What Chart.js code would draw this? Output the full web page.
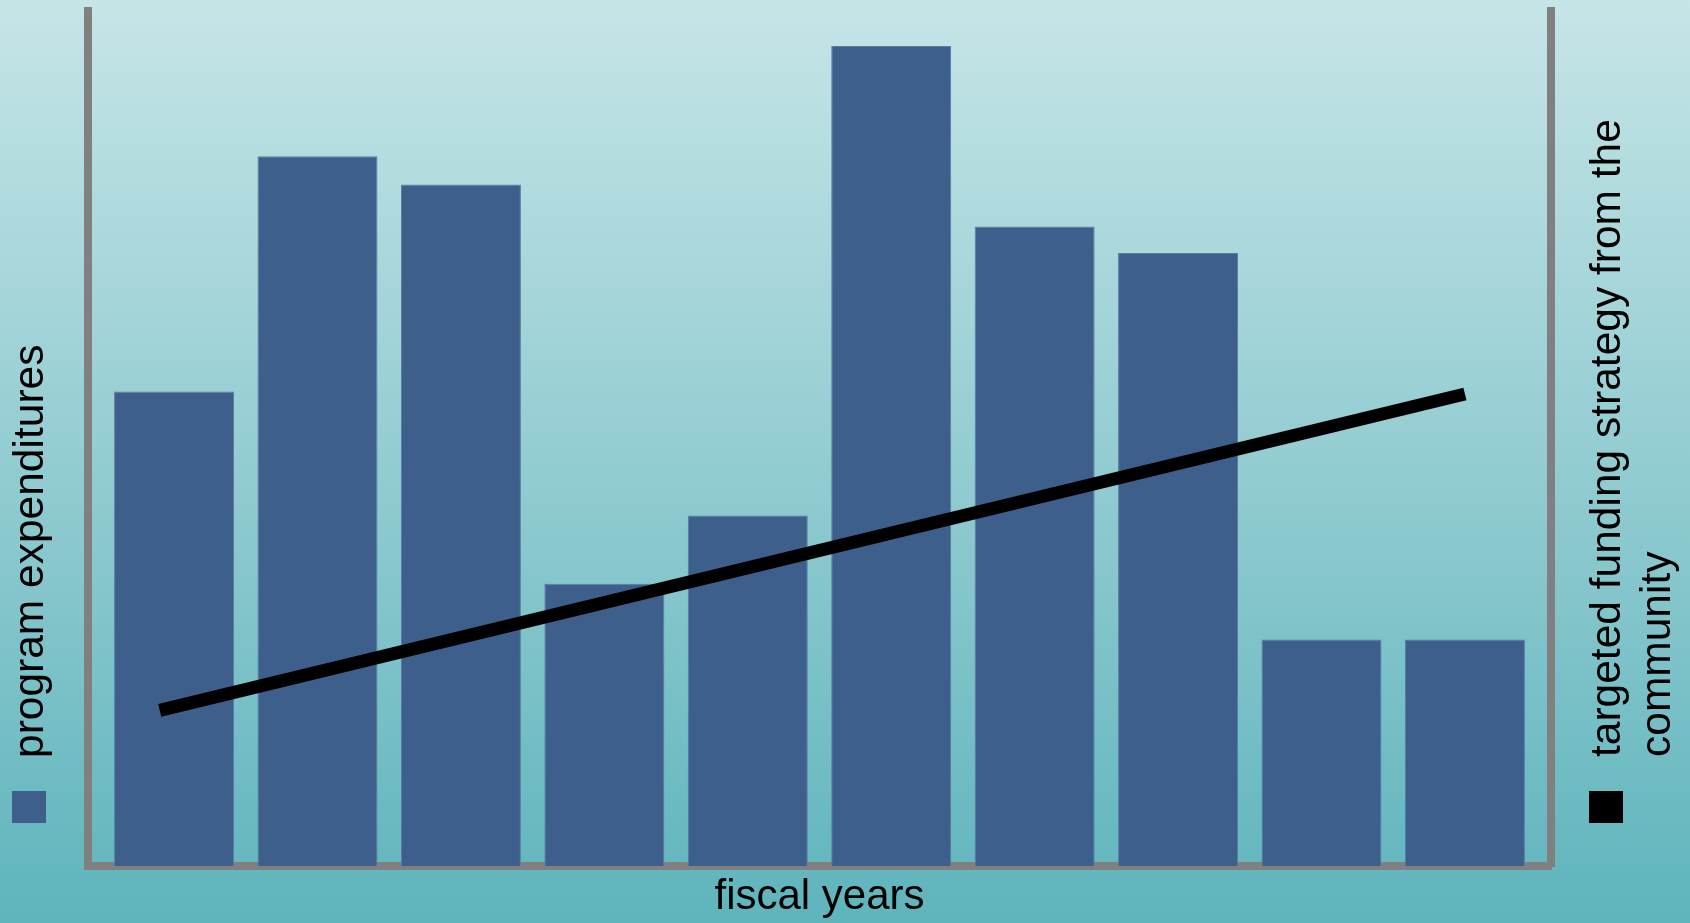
<!DOCTYPE html>
<html>
<head>
<meta charset="utf-8">
<script src="https://cdn.jsdelivr.net/npm/chart.js@4.4.1/dist/chart.umd.min.js"></script>
<style>
  html, body { margin: 0; padding: 0; background: #93cbcf; }
  #wrap { width: 1690px; height: 923px; }
</style>
</head>
<body>
<div id="wrap"><canvas id="c" width="1690" height="923"></canvas></div>
<script>
// ---- data ----
const categories = ['FY 1', 'FY 2', 'FY 3', 'FY 4', 'FY 5', 'FY 6', 'FY 7', 'FY 8', 'FY 9', 'FY 10'];
const expenditures = [55.5, 83.0, 79.7, 33.0, 41.0, 95.9, 74.8, 71.7, 26.5, 26.5];
// straight trend line: start and end (x in category units)
const trendX = [-0.1, 9.0];
const trendY = [18.2, 55.2];
const barLabel = ['program expenditures'];
const lineLabel = ['targeted funding strategy from the', 'community'];
const xTitle = 'fiscal years';

const FONT = '"Liberation Sans", Arial, Helvetica, sans-serif';
const AXIS_GREY = '#808080';

const bgPlugin = {
  id: 'bg',
  beforeDraw(chart) {
    const { ctx, width, height } = chart;
    const g = ctx.createLinearGradient(0, 0, 0, height);
    g.addColorStop(0, '#c6e5e7');
    g.addColorStop(1, '#5fb4bc');
    ctx.save();
    ctx.fillStyle = g;
    ctx.fillRect(0, 0, width, height);
    ctx.restore();
  }
};

const sideLegend = {
  id: 'sideLegend',
  afterDraw(chart) {
    const { ctx, chartArea } = chart;
    const barDs = chart.data.datasets[1];
    const lineDs = chart.data.datasets[0];
    ctx.save();
    ctx.font = '42.5px ' + FONT;
    ctx.textAlign = 'left';
    ctx.textBaseline = 'alphabetic';
    const sqY = chartArea.bottom - 75;
    // left legend entry
    ctx.fillStyle = barDs.backgroundColor;
    ctx.fillRect(chartArea.left - 76, sqY, 34, 32);
    ctx.fillStyle = '#000000';
    barDs.labelLines.forEach((t, i) => {
      ctx.save();
      ctx.translate(chartArea.left - 45 + i * 50, chartArea.bottom - 108);
      ctx.rotate(-Math.PI / 2);
      ctx.fillText(t, 0, 0);
      ctx.restore();
    });
    // right legend entry
    ctx.fillStyle = lineDs.borderColor;
    ctx.fillRect(chartArea.right + 38, sqY, 34, 32);
    ctx.fillStyle = '#000000';
    lineDs.labelLines.forEach((t, i) => {
      ctx.save();
      ctx.translate(chartArea.right + 69 + i * 50, chartArea.bottom - 109);
      ctx.rotate(-Math.PI / 2);
      ctx.fillText(t, 0, 0);
      ctx.restore();
    });
    ctx.restore();
  }
};

const barData = expenditures.map((v, i) => ({ x: i, y: v }));
const lineData = trendX.map((x, i) => ({ x: x, y: trendY[i] }));

new Chart(document.getElementById('c'), {
  type: 'bar',
  data: {
    datasets: [
      {
        type: 'line',
        label: lineLabel.join(' '),
        labelLines: lineLabel,
        data: lineData,
        yAxisID: 'y2',
        borderColor: '#000000',
        backgroundColor: '#000000',
        borderWidth: 13,
        borderCapStyle: 'butt',
        pointRadius: 0,
        tension: 0,
        order: 0
      },
      {
        type: 'bar',
        label: barLabel.join(' '),
        labelLines: barLabel,
        data: barData,
        yAxisID: 'y',
        backgroundColor: '#3e5f8b',
        borderColor: '#587ca2',
        borderWidth: 1,
        barPercentage: 0.8366,
        categoryPercentage: 1.0,
        order: 1
      }
    ]
  },
  options: {
    responsive: false,
    devicePixelRatio: 1,
    animation: false,
    layout: { padding: { left: 88, right: 139, top: 11, bottom: 0 } },
    plugins: {
      legend: { display: false },
      tooltip: {
        callbacks: {
          title: items => categories[Math.round(items[0].parsed.x)] || ''
        }
      }
    },
    scales: {
      x: {
        type: 'linear',
        min: -0.6,
        max: 9.6,
        offset: false,
        afterBuildTicks: scale => {
          scale.ticks = categories.map((c, i) => ({ value: i }));
        },
        grid: { display: false, drawTicks: false },
        ticks: { display: false },
        border: { display: true, color: AXIS_GREY, width: 8 },
        title: {
          display: true,
          text: xTitle,
          color: '#000000',
          font: { family: FONT, size: 42 },
          padding: { top: 6.6, bottom: 0 }
        }
      },
      y: {
        position: 'left',
        min: 0,
        max: 100,
        grid: { display: false, drawTicks: false },
        ticks: { display: false },
        border: { display: true, color: AXIS_GREY, width: 8 }
      },
      y2: {
        position: 'right',
        min: 0,
        max: 100,
        grid: { display: false, drawTicks: false },
        ticks: { display: false },
        border: { display: true, color: AXIS_GREY, width: 8 }
      }
    }
  },
  plugins: [bgPlugin, sideLegend]
});
</script>
</body>
</html>
